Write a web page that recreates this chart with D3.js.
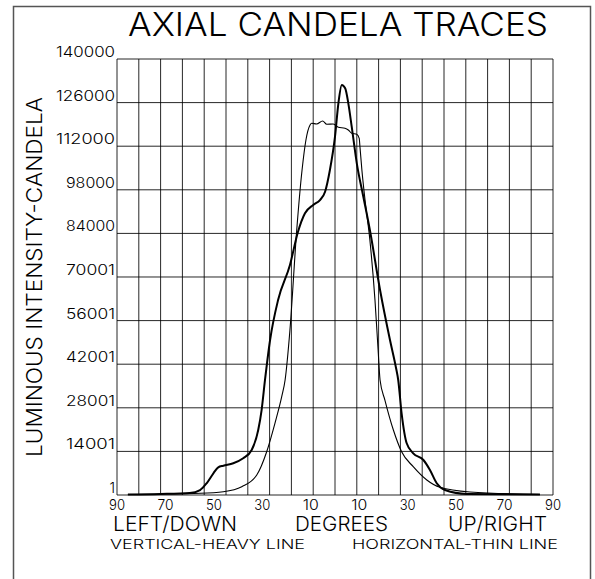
<!DOCTYPE html>
<html>
    <head>
        <title>Axial Candela Traces</title>
        <script src="https://d3js.org/d3.v7.min.js"></script>
        <style>
            body { margin: 0; background: #fff; }
            text { font-family: Inter, "DejaVu Sans", sans-serif; font-weight: 300; fill: #000; }
        </style>
    </head>
    <body>
        <div class="chart"></div>
        <script>
            // vertical trace (heavy line)
            let vertDeg = [-85.5, -72, -60, -55.7, -53, -50.2, -48.2, -46.1, -42, -37.9, -34.4, -31.7, -30.3, -28.9,
                -26.8, -23.5, -18.6, -15.3, -12.4, -9, -6.2, -4.1, -2.1, 0, 1.4, 2.8, 4.2, 5.5, 6.9, 9, 11.7, 14.4,
                18.6, 22.7, 25.2, 26.1, 27.5, 29.6, 32.3, 36.5, 39.2, 42, 45.4, 54.5, 84.6];
            let vertCd = [160, 320, 640, 1600, 3760, 6970, 8900, 9410, 10180, 11780, 14450, 20870, 27290, 36930,
                49770, 62610, 73850, 84450, 90450, 93120, 94720, 97390, 104360, 115050, 125770, 131650, 130590,
                125770, 118260, 106510, 95790, 85090, 65830, 49770, 40780, 36930, 26230, 16600, 13390, 11240,
                8030, 3760, 1600, 320, 160];

            // horizontal trace (thin line)
            let horizDeg = [-85.5, -55.7, -46.1, -38.5, -32.3, -28.2, -24.8, -22, -20.6, -18.6, -15.8, -13.6, -12,
                -10.3, -9.6, -7.6, -5.1, -3.4, -0.7, 1.4, 4.1, 5.5, 6.9, 9, 10, 10.3, 11.1, 12.4, 14.4, 16.5, 17.8,
                18.6, 20.6, 24.1, 27.5, 32.3, 37.9, 43.3, 55.7, 84.6];
            let horizCd = [160, 550, 1060, 2670, 6420, 13900, 23020, 31560, 36930, 52980, 85090, 104360, 114000,
                118800, 119350, 119130, 120090, 119030, 119130, 118070, 117750, 117200, 116140, 115820, 114540,
                111840, 104360, 94720, 81880, 62610, 46560, 36930, 30500, 20870, 13900, 9090, 4820, 2470, 960, 160];

            let yTicks = [1, 14001, 28001, 42001, 56001, 70001, 84000, 98000, 112000, 126000, 140000];
            let xTicks = [-90, -70, -50, -30, -10, 10, 30, 50, 70, 90];
            let xGrid = d3.range(-90, 91, 9);

            let width = 595;
            let height = 579;
            let plotLeft = 117, plotTop = 59, plotSize = 436;

            let svg = d3.select('.chart')
                .append('svg')
                .attr("width", width)
                .attr("height", height);

            // outer frame, runs off the bottom of the page
            svg.append("rect")
                .attr("x", 13.5)
                .attr("y", 6.5)
                .attr("width", 577)
                .attr("height", 620)
                .style("fill", "none")
                .style("stroke", "#555")
                .style("stroke-width", 1.5);

            let x = d3.scaleLinear().domain([-90, 90]).range([plotLeft, plotLeft + plotSize]);
            let y = d3.scaleLinear().domain([0, 140000]).range([plotTop + plotSize, plotTop]);

            let g = svg.append("g");

            g.selectAll(".vgrid")
                .data(xGrid)
                .enter()
                .append("line")
                .attr("x1", d => x(d)).attr("x2", d => x(d))
                .attr("y1", plotTop).attr("y2", plotTop + plotSize)
                .style("stroke", "#000")
                .style("stroke-width", 1)
                .style("stroke-opacity", 0.85);

            g.selectAll(".hgrid")
                .data(yTicks)
                .enter()
                .append("line")
                .attr("x1", plotLeft).attr("x2", plotLeft + plotSize)
                .attr("y1", d => y(d === 1 ? 0 : d)).attr("y2", d => y(d === 1 ? 0 : d))
                .style("stroke", "#000")
                .style("stroke-width", 1)
                .style("stroke-opacity", 0.85);

            // y tick labels sit on the gridlines
            g.selectAll(".ylab")
                .data(yTicks)
                .enter()
                .append("text")
                .attr("x", plotLeft - 2)
                .attr("y", d => y(d) - 2)
                .attr("text-anchor", "end")
                .attr("textLength", d => d === 1 ? null : String(d).length * 10 - 1)
                .attr("lengthAdjust", "spacingAndGlyphs")
                .style("font-size", "14px")
                .text(d => d);

            g.selectAll(".xlab")
                .data(xTicks)
                .enter()
                .append("text")
                .attr("x", d => x(d) - 8)
                .attr("y", plotTop + plotSize + 15)
                .attr("textLength", 16)
                .attr("lengthAdjust", "spacingAndGlyphs")
                .style("font-size", "14px")
                .text(d => Math.abs(d));

            let line = d3.line()
                .x(d => x(d[0]))
                .y(d => y(d[1]))
                .curve(d3.curveMonotoneX);

            g.append("path")
                .datum(d3.zip(horizDeg, horizCd))
                .attr("d", line)
                .style("fill", "none")
                .style("stroke", "#000")
                .style("stroke-width", 1.1);

            g.append("path")
                .datum(d3.zip(vertDeg, vertCd))
                .attr("d", line)
                .style("fill", "none")
                .style("stroke", "#000")
                .style("stroke-width", 2);

            // titles
            svg.append("text")
                .attr("x", 128)
                .attr("y", 36)
                .attr("textLength", 420)
                .attr("lengthAdjust", "spacingAndGlyphs")
                .style("font-size", "32px")
                .text("AXIAL CANDELA TRACES");

            svg.append("text")
                .attr("transform", "translate(42,277) rotate(-90)")
                .attr("text-anchor", "middle")
                .attr("textLength", 360)
                .attr("lengthAdjust", "spacingAndGlyphs")
                .style("font-size", "21px")
                .text("LUMINOUS INTENSITY-CANDELA");

            let words = [["LEFT/DOWN", 113, 124], ["DEGREES", 295, 93], ["UP/RIGHT", 448, 99]];
            svg.selectAll(".xtitle")
                .data(words)
                .enter()
                .append("text")
                .attr("x", d => d[1])
                .attr("y", 531)
                .attr("textLength", d => d[2])
                .attr("lengthAdjust", "spacingAndGlyphs")
                .style("font-size", "20px")
                .text(d => d[0]);

            let notes = [["VERTICAL-HEAVY LINE", 110, 195], ["HORIZONTAL-THIN LINE", 352, 206]];
            svg.selectAll(".note")
                .data(notes)
                .enter()
                .append("text")
                .attr("x", d => d[1])
                .attr("y", 549)
                .attr("textLength", d => d[2])
                .attr("lengthAdjust", "spacingAndGlyphs")
                .style("font-size", "13px")
                .text(d => d[0]);
        </script>
    </body>
</html>
